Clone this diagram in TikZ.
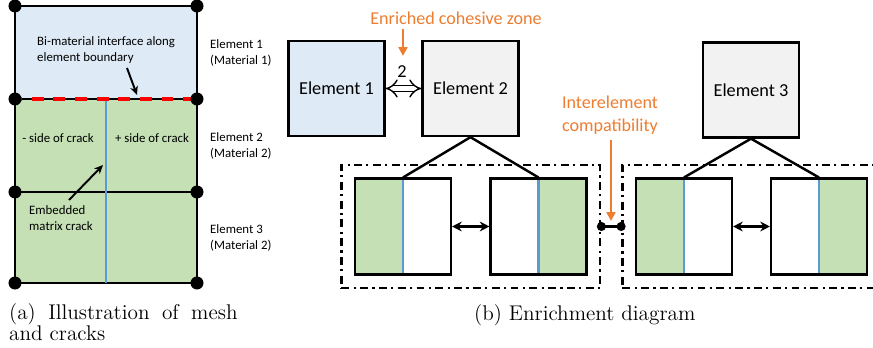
\documentclass[tikz,border=0pt]{standalone}
\usepackage{fontspec}
\newfontfamily\calib{Carlito}
\usetikzlibrary{arrows.meta,fit}
\definecolor{matone}{HTML}{DEEAF6}
\definecolor{mattwo}{HTML}{C5E0B4}
\definecolor{crack}{HTML}{5B9BD5}
\definecolor{enrich}{HTML}{ED7D31}
\definecolor{elgray}{HTML}{F2F2F2}

\begin{document}
\begin{tikzpicture}[x=0.02cm, y=-0.02cm, line width=1.4pt,
	small/.style={inner sep=0pt, font=\calib\fontsize{7.3}{9}\selectfont},
	elem/.style={draw, minimum width=54.5pt, minimum height=54pt, inner sep=0pt, font=\calib\fontsize{10.4}{12}\selectfont},
	half/.style={draw, minimum width=54.4pt, minimum height=54.4pt, inner sep=0pt},
	lgreen/.style={half, path picture={\fill[mattwo] (path picture bounding box.south west) rectangle (path picture bounding box.north);
		\draw[crack, line width=1.7pt] (path picture bounding box.south) -- (path picture bounding box.north);}},
	rgreen/.style={half, path picture={\fill[mattwo] (path picture bounding box.south) rectangle (path picture bounding box.north east);
		\draw[crack, line width=1.7pt] (path picture bounding box.south) -- (path picture bounding box.north);}},
	frame/.style={draw, dash pattern=on 4.5pt off 2.5pt on 1.2pt off 2.5pt, inner sep=7.2pt},
	note/.style={inner sep=0pt, text=enrich, font=\calib\fontsize{10.3}{13}\selectfont},
	captxt/.style={inner sep=0pt, font=\fontsize{12.1}{11.5}\selectfont}]
	\useasboundingbox (0,0) rectangle (873,348);
	\clip (0,0) rectangle (873,348);

	\filldraw[fill=matone](15,6) rectangle (197,99);
	\filldraw[fill=mattwo](15,99) rectangle (197,283);
	\draw (15,192) -- (197,192);
	\draw[crack, line width=1.3pt] (106,99) -- (106,283);
	\draw[red, line width=1.8pt, dash pattern=on 6.8pt off 5.5pt, dash phase=2.7pt] (15,99) -- (197,99);
	\foreach \y in {6,99,192,283}
		\foreach \x in {15,197}
			\fill (\x,\y) circle (3.7pt);

	\node[small, anchor=west, align=left] (bitxt) at (36,50) {Bi-material interface along\\element boundary};
	\coordinate (bitail) at (127,68);
	\coordinate (bihead) at (137,95);
	\draw[line width=1.1pt, -{Stealth[length=5pt, width=4.5pt]}] (bitail) -- (bihead);
	\node[small] (minus) at (58,138) {- side of crack};
	\node[small] (plus) at (152,138) {+ side of crack};
	\node[small, anchor=west, align=left] (embtxt) at (28,218) {Embedded\\matrix crack};
	\coordinate (embtail) at (69,200);
	\coordinate (embhead) at (103,165);
	\draw[line width=1.1pt, -{Stealth[length=5pt, width=4.5pt]}] (embtail) -- (embhead);
	\node[small, anchor=west, align=left] (lab1) at (209,53) {Element 1\\(Material 1)};
	\node[small, anchor=west, align=left] (lab2) at (209,146) {Element 2\\(Material 2)};
	\node[small, anchor=west, align=left] (lab3) at (209,238) {Element 3\\(Material 2)};

	\node[elem, fill=matone] (el1) at (336.5,88.5) {Element 1};
	\node[elem, fill=elgray] (el2) at (470.5,88.5) {Element 2};
	\node[elem, fill=elgray] (el3) at (751,90) {Element 3};
	\draw[double, double distance=2.8pt, line width=0.8pt, {Implies}-{Implies}] (el1) -- (el2);
	\node[inner sep=0pt, font=\calib\fontsize{10.4}{12}\selectfont] (two) at (402,72) {2};

	\node[note] (cohlbl) at (456,18) {Enriched cohesive zone};
	\coordinate (cohtail) at (403,29);
	\coordinate (cohhead) at (403,56);
	\draw[enrich, line width=1.4pt, -{Triangle[length=5pt, width=5pt]}] (cohtail) -- (cohhead);

	\node[lgreen] (subA) at (403,226.5) {};
	\node[rgreen] (subB) at (538.5,226.5) {};
	\node[lgreen] (subC) at (684,226.5) {};
	\node[rgreen] (subD) at (819,226.5) {};
	\draw (el2.south) -- (subA.north);
	\draw (el2.south) -- (subB.north);
	\draw (el3.south) -- (subC.north);
	\draw (el3.south) -- (subD.north);
	\draw[{Stealth[length=5.5pt, width=5.5pt]}-{Stealth[length=5.5pt, width=5.5pt]}] (subA) -- (subB);
	\draw[{Stealth[length=5.5pt, width=5.5pt]}-{Stealth[length=5.5pt, width=5.5pt]}] (subC) -- (subD);
	\node[frame, fit=(subA)(subB)] (grpA) {};
	\node[frame, fit=(subC)(subD)] (grpB) {};
	\draw (grpA.east) -- (grpB.west);
	\fill (grpA.east) circle (2.6pt) (grpB.west) circle (2.6pt);

	\node[note, align=center] (intlbl) at (610,115) {Interelement\\compatibility};
	\coordinate (inttail) at (611,140);
	\coordinate (inthead) at (611,221);
	\draw[enrich, line width=1.4pt, -{Triangle[length=5pt, width=5pt]}] (inttail) -- (inthead);

	\node[captxt, anchor=base west, align=left] (capa) at (8,340) {\makebox[130pt][s]{(a) Illustration of mesh}\\and cracks};
	\node[captxt, anchor=base west] (capb) at (473,320) {(b) Enrichment diagram};
\end{tikzpicture}
\end{document}
